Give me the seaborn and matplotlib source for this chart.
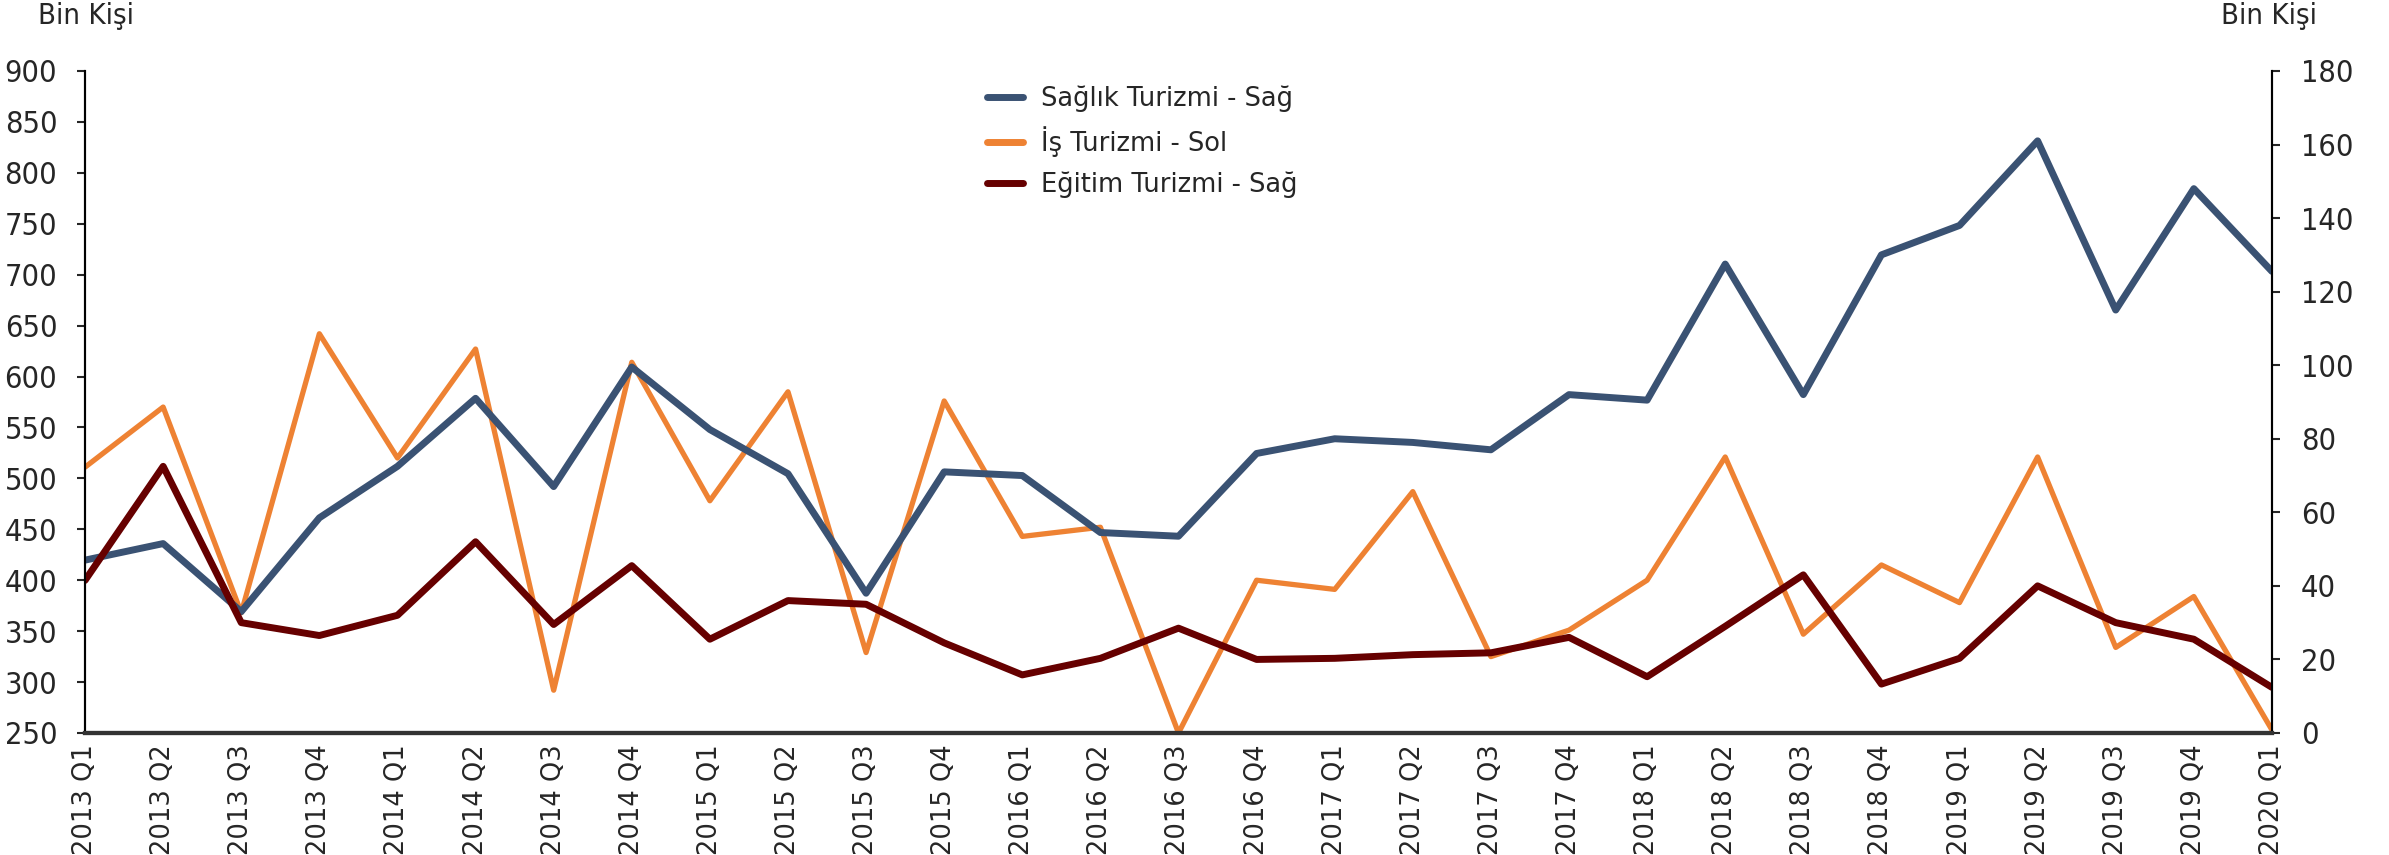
import numpy as np
import pandas as pd
import matplotlib
matplotlib.use("Agg")

import matplotlib.pyplot as plt
import seaborn as sns
from matplotlib import font_manager

# çeyrekler
quarters = [f"{y} Q{q}" for y in range(2013, 2020) for q in range(1, 5)] + ["2020 Q1"]

# Sağlık Turizmi (sağ eksen, bin kişi)
saglik = [47, 51.5, 33, 58.5, 72.5, 91, 67, 99.5, 82.5, 70.5, 38, 71, 70, 54.5,
          53.5, 76, 80, 79, 77, 92, 90.5, 127.5, 92, 130, 138, 161, 115, 148, 125.5]

# İş Turizmi (sol eksen, bin kişi)
is_turizmi = [511, 570, 368, 642, 520, 627, 292, 614, 478, 585, 329, 576, 443, 452,
              250, 400, 391, 487, 325, 351, 400, 521, 347, 415, 378, 521, 334, 384, 253]

# Eğitim Turizmi (sağ eksen, bin kişi)
egitim = [41.5, 72.5, 30, 26.5, 32, 52, 29.5, 45.5, 25.5, 36, 35, 24.5, 15.8, 20.3,
          28.5, 20, 20.3, 21.3, 21.8, 26, 15.3, 29, 43, 13.3, 20.3, 40, 30, 25.5, 12.4]

df = pd.DataFrame({"x": np.arange(len(quarters)), "saglik": saglik,
                   "is": is_turizmi, "egitim": egitim})

sns.set_style("white")
plt.rcParams["font.family"] = ["DejaVu Sans"]

# dar yazı tipi varsa onu kullan
names = {f.name for f in font_manager.fontManager.ttflist}
if "Liberation Sans Narrow" in names:
    narrow = dict(family="Liberation Sans Narrow")
else:
    narrow = dict(family="DejaVu Sans", stretch="condensed")

fig = plt.figure(figsize=(23.89, 8.55), dpi=100)
ax = fig.add_axes([0.0356, 0.1427, 0.9154, 0.7743])
ax2 = ax.twinx()

c_blue = "#3A5273"
c_orange = "#EE8233"
c_red = "#660000"

sns.lineplot(data=df, x="x", y="is", ax=ax, color=c_orange, linewidth=3.8,
             label="İş Turizmi - Sol", legend=False)
sns.lineplot(data=df, x="x", y="saglik", ax=ax2, color=c_blue, linewidth=5,
             label="Sağlık Turizmi - Sağ", legend=False)
sns.lineplot(data=df, x="x", y="egitim", ax=ax2, color=c_red, linewidth=5,
             label="Eğitim Turizmi - Sağ", legend=False)

ax.set_xlim(0, len(quarters) - 1)
ax.set_ylim(250, 900)
ax.set_yticks(range(250, 901, 50))
ax2.set_ylim(0, 180)
ax2.set_yticks(range(0, 181, 20))

ax.set_xticks(df["x"])
ax.set_xticklabels(quarters, rotation=90, fontsize=18.5)
ax.set_xlabel("")
ax.set_ylabel("")
ax2.set_ylabel("")

for lab in ax.get_yticklabels() + ax2.get_yticklabels():
    lab.set(**narrow)
    lab.set_fontsize(22)

ax.tick_params(axis="y", direction="out", length=6, width=1.5, left=True, pad=14)
ax2.tick_params(axis="y", direction="out", length=6, width=1.5, right=True, pad=15)
ax.tick_params(axis="x", length=0, pad=8)

for a in (ax, ax2):
    a.spines["top"].set_visible(False)
    a.spines["left"].set_color("black")
    a.spines["right"].set_color("black")
    a.spines["left"].set_linewidth(1.5)
    a.spines["right"].set_linewidth(1.5)
    a.spines["bottom"].set_color("#333333")
    a.spines["bottom"].set_linewidth(3)

fig.text(0.016, 0.981, "Bin Kişi", fontsize=21, va="center", ha="left", **narrow)
fig.text(0.970, 0.981, "Bin Kişi", fontsize=21, va="center", ha="right", **narrow)

h1, l1 = ax2.get_legend_handles_labels()
h2, l2 = ax.get_legend_handles_labels()
handles = [h1[0], h2[0], h1[1]]
labels = [l1[0], l2[0], l1[1]]
leg = ax2.legend(handles, labels, loc="upper left", bbox_to_anchor=(0.402, 1.013),
                 frameon=False, fontsize=18.5, handlelength=1.4, handletextpad=0.7,
                 labelspacing=0.55)
for line in leg.get_lines():
    line.set_linewidth(5)

fig.savefig("out.png", dpi=100)
